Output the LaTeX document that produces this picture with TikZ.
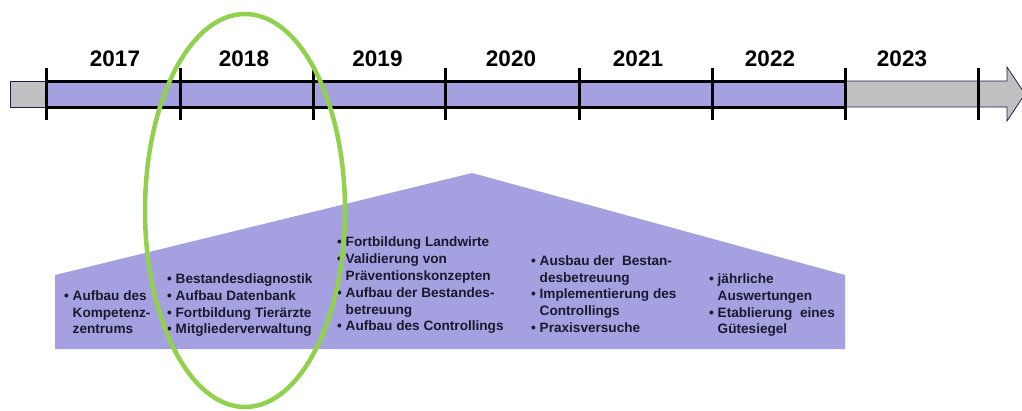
\documentclass[tikz,border=0pt]{standalone}
\usepackage{fontspec}
\setmainfont{Liberation Sans}
\definecolor{barpurple}{RGB}{165,161,225}
\definecolor{bargray}{RGB}{192,192,192}
\definecolor{navy}{RGB}{30,30,80}
\definecolor{txt}{RGB}{25,25,45}
\definecolor{ovalgreen}{RGB}{146,208,80}
\newcommand\mybul{\makebox[8.5pt][l]{•}}
\newcommand\mycont{\hspace*{8.5pt}}
\begin{document}
\begin{tikzpicture}[x=1pt,y=-1pt,
  year/.style={font=\fontsize{22.5}{27}\selectfont\bfseries, anchor=base, inner sep=0pt},
  col/.style={font=\fontsize{13.6}{16.8}\selectfont\bfseries, align=left, anchor=north west, inner sep=0pt, text=txt},
  tickline/.style={line width=3pt, black},
  thinout/.style={draw=navy, line width=0.8pt},
  oval/.style={draw=ovalgreen, line width=4.5pt}]
\useasboundingbox (0,0) rectangle (1022,410);
% lower pentagon
\fill[barpurple] (55,349) -- (55,275) -- (472,173) -- (845,275) -- (845,349) -- cycle;
% timeline bar
\filldraw[fill=bargray, thinout] (10,81) rectangle (46,107);
\filldraw[fill=bargray, thinout] (845,81) -- (1007,81) -- (1007,67) -- (1025,94) -- (1007,121) -- (1007,107) -- (845,107) -- cycle;
\fill[barpurple] (46,81) rectangle (845,107);
\draw[line width=3pt] (46,81) -- (845,81);
\draw[line width=3pt] (46,107) -- (845,107);
\foreach \x in {46,180,313,445,579,712,845,978}
  \draw[tickline] (\x,68) -- (\x,120);
% years
\node[year] (y17) at (115,66) {2017};
\node[year] (y18) at (244,66) {2018};
\node[year] (y19) at (377.5,66) {2019};
\node[year] (y20) at (511,66) {2020};
\node[year] (y21) at (638,66) {2021};
\node[year] (y22) at (770,66) {2022};
\node[year] (y23) at (902,66) {2023};
% columns
\node[col] (c1) at (64,290.2) {\mybul Aufbau des\\\mycont Kompetenz-\\\mycont zentrums};
\node[col] (c2) at (167,273.5) {\mybul Bestandesdiagnostik\\\mybul Aufbau Datenbank\\\mybul Fortbildung Tierärzte\\\mybul Mitgliederverwaltung};
\node[col] (c3) at (337,236.9) {\mybul Fortbildung Landwirte\\\mybul Validierung von\\\mycont Präventionskonzepten\\\mybul Aufbau der Bestandes-\\\mycont betreuung\\\mybul Aufbau des Controllings};
\node[col] (c4) at (531,255.2) {\mybul Ausbau der\ \ Bestan-\\\mycont desbetreuung\\\mybul Implementierung des\\\mycont Controllings\\\mybul Praxisversuche};
\node[col] (c5) at (709,273.5) {\mybul jährliche\\\mycont Auswertungen\\\mybul Etablierung\ \ eines\\\mycont Gütesiegel};
% green oval
\draw[oval] (245,210.5) ellipse [x radius=100, y radius=196.5];
\end{tikzpicture}
\end{document}
